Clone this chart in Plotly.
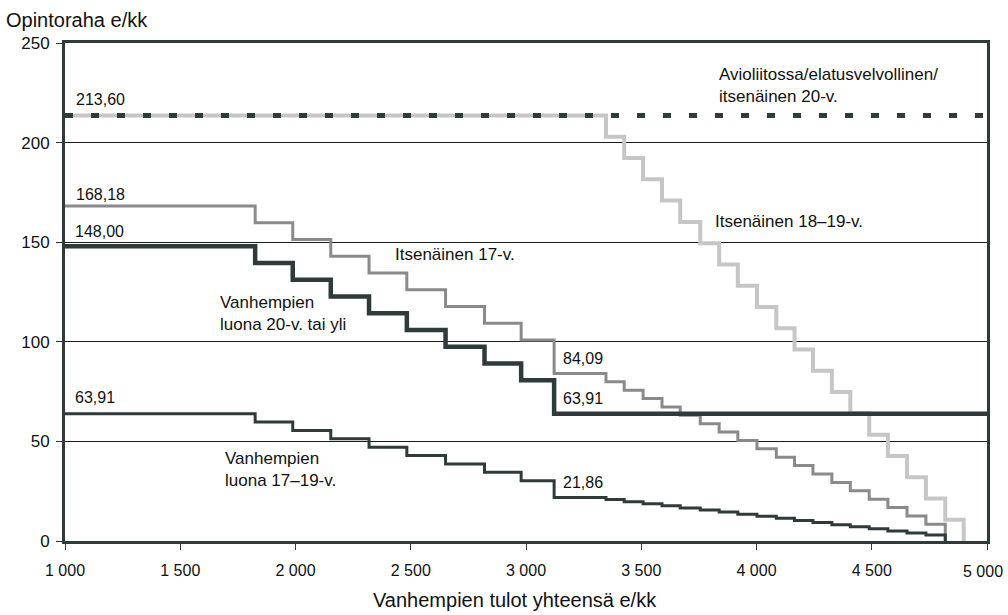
import plotly.graph_objects as go

# ---- data ----
x_tick_vals = [1000, 1500, 2000, 2500, 3000, 3500, 4000, 4500, 5000]
x_tick_text = ["1 000", "1 500", "2 000", "2 500", "3 000", "3 500", "4 000", "4 500", "5 000"]
y_tick_vals = [0, 50, 100, 150, 200, 250]

# Avioliitossa/elatusvelvollinen/itsenäinen 20-v.
married_x = [1000, 5000]
married_y = [213.60, 213.60]

# Itsenäinen 18–19-v.
ind1819_x = [1000, 3347, 3426, 3508, 3590, 3669, 3756, 3838, 3919, 4002, 4086,
             4165, 4245, 4327, 4407, 4489, 4570, 4653, 4735, 4819, 4899]
ind1819_y = [213.60, 202.92, 192.24, 181.56, 170.88, 160.20, 149.52, 138.84, 128.16, 117.48, 106.80,
             96.12, 85.44, 74.76, 64.08, 53.40, 42.72, 32.04, 21.36, 10.68, 0]

# Itsenäinen 17-v.
ind17_x = [1000, 1825, 1988, 2153, 2319, 2483, 2651, 2820, 2979, 3122,
           3347, 3426, 3508, 3590, 3669, 3756, 3838, 3919, 4002, 4086,
           4165, 4245, 4327, 4407, 4489, 4570, 4653, 4735, 4819]
ind17_y = [168.18, 159.77, 151.36, 142.95, 134.54, 126.13, 117.73, 109.32, 100.91, 84.09,
           79.89, 75.68, 71.48, 67.27, 63.07, 58.86, 54.66, 50.45, 46.25, 42.04,
           37.84, 33.64, 29.43, 25.23, 21.02, 16.82, 12.61, 8.41, 0]

# Vanhempien luona 20-v. tai yli
par20_x = [1000, 1825, 1988, 2153, 2319, 2483, 2651, 2820, 2979, 3122, 5000]
par20_y = [148.00, 139.59, 131.18, 122.77, 114.36, 105.95, 97.54, 89.13, 80.72, 63.91, 63.91]

# Vanhempien luona 17–19-v.
par1719_x = [1000, 1825, 1988, 2153, 2319, 2483, 2651, 2820, 2979, 3122,
             3347, 3426, 3508, 3590, 3669, 3756, 3838, 3919, 4002, 4086,
             4165, 4245, 4327, 4407, 4489, 4570, 4653, 4735, 4819]
par1719_y = [63.91, 59.71, 55.50, 51.30, 47.09, 42.89, 38.68, 34.48, 30.27, 21.86,
             20.81, 19.76, 18.71, 17.66, 16.61, 15.56, 14.51, 13.46, 12.41, 11.36,
             10.31, 9.26, 8.21, 7.16, 6.11, 5.06, 4.01, 2.96, 0]

# value labels: (text, x, y)
value_labels = [
    ("213,60", 1039, 221.6),
    ("168,18", 1039, 174.0),
    ("148,00", 1034, 155.4),
    ("63,91", 1034, 71.9),
    ("84,09", 3151, 91.5),
    ("63,91", 3151, 71.4),
    ("21,86", 3151, 29.4),
]
series_labels = [
    ("Avioliitossa/elatusvelvollinen/<br>itsenäinen 20-v.", 3828, 228.9),
    ("Itsenäinen 18–19-v.", 3813, 160.6),
    ("Itsenäinen 17-v.", 2422, 143.9),
    ("Vanhempien<br>luona 20-v. tai yli", 1663, 114.2),
    ("Vanhempien<br>luona 17–19-v.", 1687, 35.9),
]

DARK = "#2f3b3b"
FONT = "Arial, Liberation Sans, sans-serif"

fig = go.Figure()
fig.add_trace(go.Scatter(x=ind1819_x, y=ind1819_y, mode="lines", line_shape="hv",
                         line=dict(color="#c6c6c6", width=4), hoverinfo="skip"))
fig.add_trace(go.Scatter(x=ind17_x, y=ind17_y, mode="lines", line_shape="hv",
                         line=dict(color="#8a8a8a", width=3), hoverinfo="skip"))
fig.add_trace(go.Scatter(x=par1719_x, y=par1719_y, mode="lines", line_shape="hv",
                         line=dict(color=DARK, width=3), hoverinfo="skip"))
fig.add_trace(go.Scatter(x=par20_x, y=par20_y, mode="lines", line_shape="hv",
                         line=dict(color=DARK, width=4.5), hoverinfo="skip"))
fig.add_trace(go.Scatter(x=married_x, y=married_y, mode="lines",
                         line=dict(color=DARK, width=5, dash="8px,18px"), hoverinfo="skip"))

annotations = []
for t, x, y in value_labels:
    annotations.append(dict(text=t, x=x, y=y, xref="x", yref="y", xanchor="left",
                            yanchor="middle", showarrow=False,
                            font=dict(family=FONT, size=16, color="#111")))
for t, x, y in series_labels:
    annotations.append(dict(text=t, x=x, y=y, xref="x", yref="y", xanchor="left",
                            yanchor="middle", align="left", showarrow=False,
                            font=dict(family=FONT, size=17, color="#111")))
annotations.append(dict(text="Opintoraha e/kk", x=-0.066, y=1.046, xref="paper", yref="paper",
                        xanchor="left", yanchor="middle", showarrow=False,
                        font=dict(family=FONT, size=20, color="#111")))
annotations.append(dict(text="Vanhempien tulot yhteensä e/kk", x=0.488, y=-0.118,
                        xref="paper", yref="paper", xanchor="center", yanchor="middle",
                        showarrow=False, font=dict(family=FONT, size=20, color="#111")))
# last x tick label, kept inside the page edge
annotations.append(dict(text=x_tick_text[-1], x=x_tick_vals[-1], y=0, xref="x", yref="paper",
                        xanchor="right", yanchor="middle", xshift=18, yshift=-30,
                        showarrow=False, font=dict(family=FONT, size=16, color="#111")))

fig.update_layout(
    width=1008, height=615,
    margin=dict(l=65, r=21, t=43, b=74, autoexpand=False),
    plot_bgcolor="white", paper_bgcolor="white",
    showlegend=False,
    annotations=annotations,
    font=dict(family=FONT, size=17, color="#111"),
)
fig.update_xaxes(range=[999.99, 5000.01], tickvals=x_tick_vals,
                 ticktext=x_tick_text[:-1] + [""],
                 showgrid=False, zeroline=False, automargin=False,
                 showline=True, linecolor=DARK, linewidth=3, mirror=True,
                 ticks="outside", ticklen=6, tickcolor=DARK, tickwidth=1,
                 ticklabelstandoff=7, ticklabeloverflow="allow",
                 tickfont=dict(family=FONT, size=16, color="#111"))
fig.update_yaxes(range=[0, 250], tickvals=y_tick_vals,
                 showgrid=True, gridcolor="#1a1a1a", gridwidth=1, zeroline=False,
                 automargin=False,
                 showline=True, linecolor=DARK, linewidth=3, mirror=True,
                 ticks="outside", ticklen=6, tickcolor=DARK, tickwidth=1,
                 ticklabelstandoff=3,
                 tickfont=dict(family=FONT, size=17, color="#111"))

fig.write_html("out.html", config={"displayModeBar": False},
               post_script="document.body.style.margin='0';document.body.style.overflow='hidden';")
